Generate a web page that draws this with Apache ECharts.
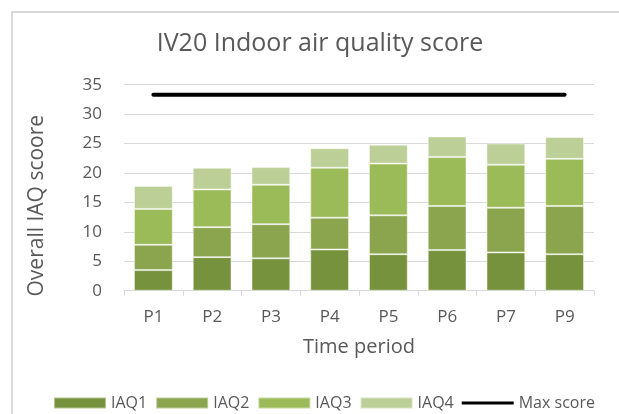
<!DOCTYPE html>
<html>
<head>
<meta charset="utf-8">
<script src="https://cdn.jsdelivr.net/npm/echarts@6/dist/echarts.min.js"></script>
<style>
  html, body { margin: 0; padding: 0; background: #fff; }
  #chart { width: 619px; height: 414px; }
</style>
</head>
<body>
<div id="chart"></div>
<script>
// Time periods on the category axis
const periods = ['P1', 'P2', 'P3', 'P4', 'P5', 'P6', 'P7', 'P9'];

// Stacked IAQ component scores per period
const iaq1 = [3.5, 5.7, 5.5, 7.0, 6.2, 6.9, 6.5, 6.2];
const iaq2 = [4.3, 5.1, 5.8, 5.4, 6.6, 7.5, 7.6, 8.2];
const iaq3 = [6.1, 6.4, 6.7, 8.5, 8.8, 8.3, 7.3, 8.0];
const iaq4 = [3.9, 3.7, 3.0, 3.3, 3.2, 3.5, 3.6, 3.7];

// Maximum attainable score
const maxScore = [33.3, 33.3, 33.3, 33.3, 33.3, 33.3, 33.3, 33.3];

// Value axis ticks
const yTicks = [0, 5, 10, 15, 20, 25, 30, 35];

const FONT = '"Open Sans", "Noto Sans", sans-serif';
const TXT = '#595959';

// Thin horizontal bar inside a 52x11 box, used as the legend key of the line
const LINE_ICON = 'path://M0,0 M52,11 M0,4 L52,4 L52,7 L0,7 Z';

const chart = echarts.init(document.getElementById('chart'), null, { renderer: 'canvas' });

function barSeries(name, data, color) {
  return {
    name: name,
    type: 'bar',
    stack: 'iaq',
    data: data,
    barCategoryGap: '34%',
    itemStyle: { color: color, borderColor: 'rgba(255,255,255,0.45)', borderWidth: 1 },
    emphasis: { disabled: true }
  };
}

chart.setOption({
  animation: false,
  backgroundColor: '#ffffff',
  graphic: [{
    type: 'rect',
    shape: { x: 12, y: 12, width: 700, height: 500 },
    style: { fill: 'none', stroke: '#d9d9d9', lineWidth: 2 },
    silent: true
  }],
  title: {
    text: 'IV20 Indoor air quality score',
    left: 315,
    top: 26,
    textAlign: 'center',
    textStyle: { fontFamily: FONT, fontSize: 25, fontWeight: 'normal', color: TXT }
  },
  legend: {
    left: 48,
    top: 390,
    itemWidth: 52,
    itemHeight: 11,
    itemGap: 8,
    textStyle: { fontFamily: FONT, fontSize: 16, color: TXT },
    data: [
      { name: 'IAQ1', icon: 'rect' },
      { name: 'IAQ2', icon: 'rect' },
      { name: 'IAQ3', icon: 'rect' },
      { name: 'IAQ4', icon: 'rect' },
      { name: 'Max score', icon: LINE_ICON }
    ]
  },
  grid: { left: 124, right: 25, top: 84.7, bottom: 123.3 },
  xAxis: {
    type: 'category',
    data: periods,
    name: 'Time period',
    nameLocation: 'middle',
    nameGap: 47,
    nameTextStyle: { fontFamily: FONT, fontSize: 20, color: TXT },
    axisLine: { lineStyle: { color: '#d9d9d9', width: 1 } },
    axisTick: { show: true, length: 5, lineStyle: { color: '#d9d9d9' } },
    axisLabel: { fontFamily: FONT, fontSize: 17, color: TXT, margin: 18 }
  },
  yAxis: {
    type: 'value',
    min: yTicks[0],
    max: yTicks[yTicks.length - 1],
    interval: 5,
    name: 'Overall IAQ scoore',
    nameLocation: 'middle',
    nameGap: 76,
    nameTextStyle: { fontFamily: FONT, fontSize: 21, color: TXT, padding: [0, 36, 0, 0] },
    axisLine: { show: false },
    axisTick: { show: false },
    splitLine: { lineStyle: { color: '#d9d9d9', width: 1 } },
    axisLabel: { fontFamily: FONT, fontSize: 17, color: TXT, margin: 22 }
  },
  series: [
    barSeries('IAQ1', iaq1, '#76923c'),
    barSeries('IAQ2', iaq2, '#8aa54e'),
    barSeries('IAQ3', iaq3, '#9bbb59'),
    barSeries('IAQ4', iaq4, '#bbcf96'),
    {
      name: 'Max score',
      type: 'line',
      data: maxScore,
      symbol: 'none',
      lineStyle: { color: '#000000', width: 4, cap: 'round' },
      itemStyle: { color: '#000000' },
      emphasis: { disabled: true },
      z: 5
    }
  ]
});
</script>
</body>
</html>
